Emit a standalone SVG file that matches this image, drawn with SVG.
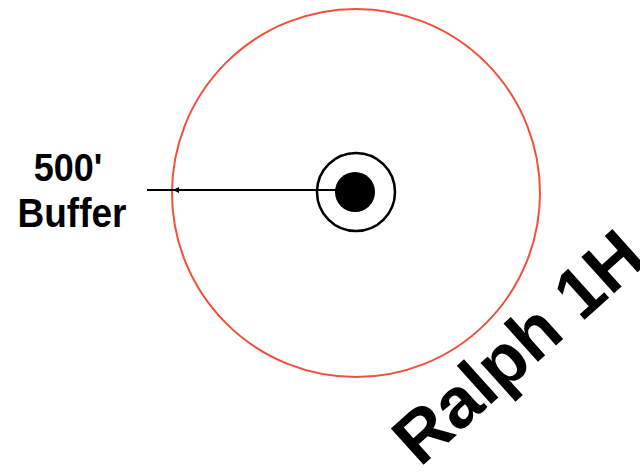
<svg xmlns="http://www.w3.org/2000/svg" width="640" height="472" viewBox="0 0 640 472">
<style>
.lbl{font-family:"Liberation Sans",Arial,sans-serif;font-weight:bold;fill:#000}
</style>
<defs>
<marker id="ah" viewBox="0 0 10 10" refX="10" refY="5" markerWidth="8" markerHeight="6" orient="auto" markerUnits="userSpaceOnUse">
<path d="M0,0 L10,5 L0,10 z" fill="#000"/>
</marker>
</defs>
<rect width="640" height="472" fill="#fff"/>
<g id="buffer">
<circle cx="356" cy="193" r="184" fill="none" stroke="#f0503c" stroke-width="2"/>
</g>
<g id="well">
<circle cx="356" cy="192" r="39" fill="none" stroke="#000" stroke-width="2.5"/>
<circle cx="355" cy="192" r="20" fill="#000"/>
</g>
<g id="connectors">
<line x1="336" y1="190" x2="147" y2="190" stroke="#000" stroke-width="2"/>
<line x1="190" y1="190" x2="173" y2="190" stroke="#000" stroke-width="1.5" marker-end="url(#ah)"/>
</g>
<g id="label">
<text class="lbl" x="68" y="181" font-size="36" text-anchor="middle" transform="translate(0,-18) scale(1,1.1)">500'</text>
<text class="lbl" x="72" y="226" font-size="37" text-anchor="middle" transform="translate(0,-22) scale(1,1.1)">Buffer</text>
</g>
<g id="title">
<text class="lbl" font-size="71" transform="translate(420,468) rotate(-42)">Ralph 1H</text>
</g>
</svg>
